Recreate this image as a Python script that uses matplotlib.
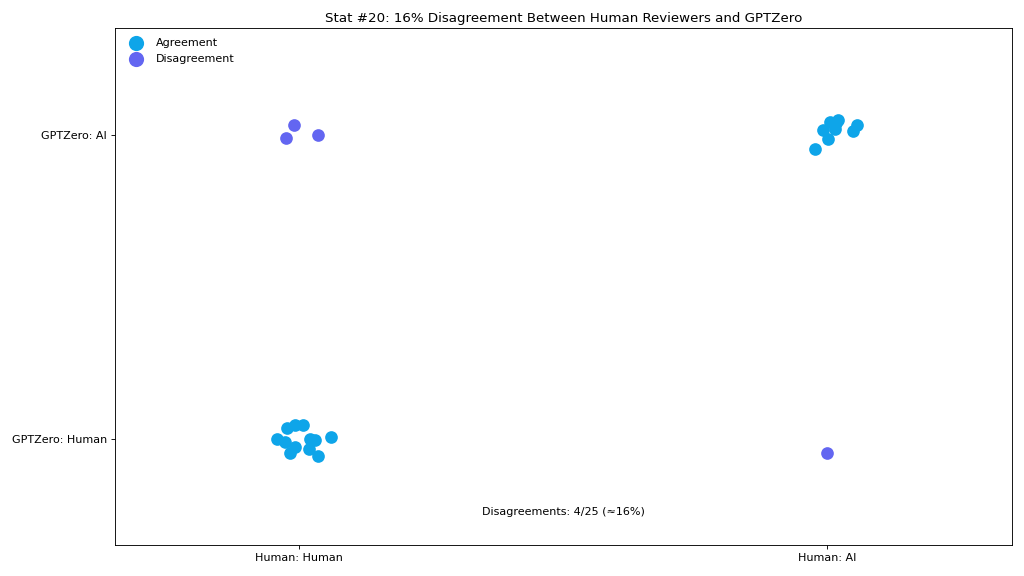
import matplotlib.pyplot as plt

# category labels
human_labels = ["Human: Human", "Human: AI"]
gptzero_labels = ["GPTZero: Human", "GPTZero: AI"]

# each point: human category, gptzero category, jitter
agree_human = [0] * 12 + [1] * 9
agree_gpt = [0] * 12 + [1] * 9
agree_dx = [-0.042, -0.027, -0.023, -0.009, 0.007, -0.008, -0.018, 0.021, 0.030, 0.059, 0.018, 0.035,
            -0.023, -0.008, 0.001, 0.006, 0.015, 0.021, 0.017, 0.050, 0.056]
agree_dy = [-0.001, -0.012, 0.035, 0.043, 0.046, -0.029, -0.047, -0.001, -0.006, 0.004, -0.036, -0.056,
            -0.047, 0.015, -0.016, 0.040, 0.019, 0.048, 0.039, 0.013, 0.033]

dis_human = [0, 0, 0, 1]
dis_gpt = [1, 1, 1, 0]
dis_dx = [-0.025, -0.011, 0.035, 0.000]
dis_dy = [-0.011, 0.032, 0.000, -0.046]

total = len(agree_human) + len(dis_human)
n_dis = len(dis_human)

fig = plt.figure(figsize=(12.8, 7.2), dpi=80)
ax = fig.add_axes([0.112, 0.054, 0.876, 0.897])

ax.scatter([h + d for h, d in zip(agree_human, agree_dx)],
           [g + d for g, d in zip(agree_gpt, agree_dy)],
           s=130, color="#0ea5e9", linewidths=0, label="Agreement")
ax.scatter([h + d for h, d in zip(dis_human, dis_dx)],
           [g + d for g, d in zip(dis_gpt, dis_dy)],
           s=130, color="#6366f1", linewidths=0, label="Disagreement")

ax.set_xticks([0, 1])
ax.set_xticklabels(human_labels)
ax.set_yticks([0, 1])
ax.set_yticklabels(gptzero_labels)
ax.set_xlim(-0.35, 1.35)
ax.set_ylim(-0.35, 1.35)

ax.text(0.5, -0.242, "Disagreements: {}/{} (≈{}%)".format(n_dis, total, round(100 * n_dis / total)),
        ha="center", va="center", fontsize=10)
ax.set_title("Stat #20: 16% Disagreement Between Human Reviewers and GPTZero", fontsize=12)
ax.legend(loc="upper left", frameon=False, markerscale=1.2)

fig.savefig("out.png")
